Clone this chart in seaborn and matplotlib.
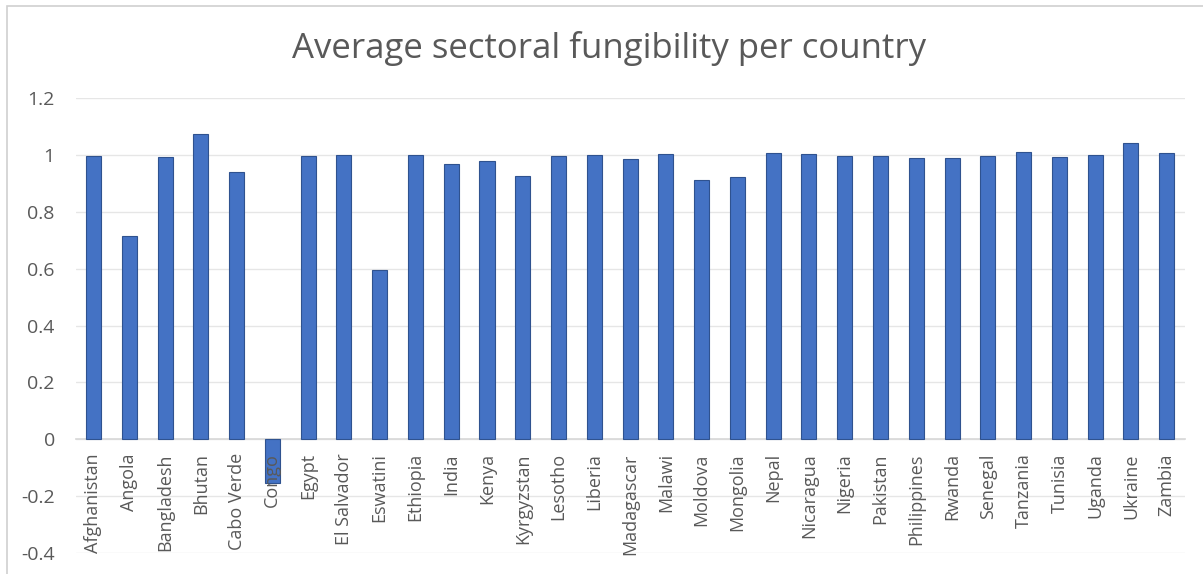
import matplotlib
matplotlib.use("Agg")
import matplotlib.pyplot as plt
from matplotlib.patches import Rectangle
import pandas as pd
import seaborn as sns

# Data
countries = ["Afghanistan", "Angola", "Bangladesh", "Bhutan", "Cabo Verde", "Congo",
             "Egypt", "El Salvador", "Eswatini", "Ethiopia", "India", "Kenya",
             "Kyrgyzstan", "Lesotho", "Liberia", "Madagascar", "Malawi", "Moldova",
             "Mongolia", "Nepal", "Nicaragua", "Nigeria", "Pakistan", "Philippines",
             "Rwanda", "Senegal", "Tanzania", "Tunisia", "Uganda", "Ukraine", "Zambia"]
fungibility = [0.997, 0.716, 0.994, 1.073, 0.939, -0.155,
               0.998, 1.001, 0.596, 1.000, 0.969, 0.978,
               0.926, 0.998, 0.999, 0.987, 1.003, 0.913,
               0.924, 1.006, 1.003, 0.997, 0.998, 0.990,
               0.991, 0.998, 1.012, 0.993, 1.000, 1.043, 1.006]
y_ticks = [-0.4, -0.2, 0, 0.2, 0.4, 0.6, 0.8, 1, 1.2]
y_tick_labels = ["-0.4", "-0.2", "0", "0.2", "0.4", "0.6", "0.8", "1", "1.2"]

df = pd.DataFrame({"country": countries, "value": fungibility})

sns.set_theme(style="white")
plt.rcParams["font.family"] = ["Open Sans", "DejaVu Sans"]

text_grey = "#595959"
fig = plt.figure(figsize=(12.03, 5.74), dpi=100)
ax = fig.add_axes([75.6 / 1203, 0.0366, 1109 / 1203, 0.7924])

sns.barplot(data=df, x="country", y="value", color="#4472C4", width=0.42,
            edgecolor="#2F528F", linewidth=0.8, saturation=1, ax=ax, zorder=3)

ax.set_ylim(-0.4, 1.2)
ax.set_xlim(-0.5, len(countries) - 0.5)
ax.set_yticks(y_ticks)
ax.set_yticklabels(y_tick_labels, color=text_grey, fontsize=14)
ax.yaxis.grid(True, color="#e6e6e6", linewidth=1)
ax.yaxis.set_zorder(0.5)
ax.xaxis.set_zorder(5)  # labels sit on top of the bars (Congo)
ax.set_xlabel("")
ax.set_ylabel("")

# category axis crosses at zero like the original
for side in ["top", "right", "left"]:
    ax.spines[side].set_visible(False)
ax.spines["bottom"].set_position(("data", 0))
ax.spines["bottom"].set_color("#d9d9d9")
ax.spines["bottom"].set_zorder(1)
ax.tick_params(axis="x", length=0, pad=10)
ax.tick_params(axis="y", length=0, pad=15)
plt.setp(ax.get_xticklabels(), rotation=90, color=text_grey, fontsize=13, va="top")

fig.text(0.506, 0.916, "Average sectoral fungibility per country", ha="center",
         va="center", fontsize=25, color=text_grey)

# chart frame
fig.patches.append(Rectangle((7 / 1203, -0.05), 1.1, 1.05 - 6 / 574,
                             transform=fig.transFigure, fill=False,
                             edgecolor="#d0d0d0", linewidth=1.2))

fig.savefig("out.png", dpi=100)
